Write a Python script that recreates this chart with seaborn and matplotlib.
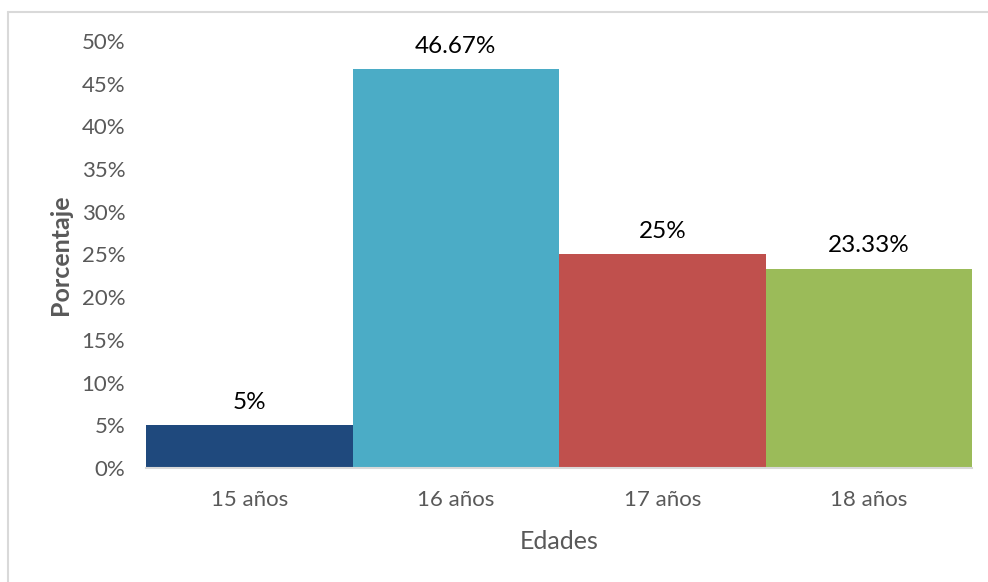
import matplotlib
matplotlib.use("Agg")
import matplotlib.pyplot as plt
from matplotlib.lines import Line2D
from matplotlib.ticker import FuncFormatter
import seaborn as sns
import pandas as pd

# Distribución por edades (porcentaje)
edades = ["15 años", "16 años", "17 años", "18 años"]
porcentajes = [5.0, 46.67, 25.0, 23.33]
etiquetas = ["5%", "46.67%", "25%", "23.33%"]
colores = ["#1F497D", "#4BACC6", "#C0504D", "#9BBB59"]

sns.set_theme(style="white")
plt.rcParams["font.family"] = ["Lato", "DejaVu Sans"]

df = pd.DataFrame({"Edades": edades, "Porcentaje": porcentajes})

fig = plt.figure(figsize=(9.88, 5.82), dpi=100)
ax = fig.add_axes([0.1478, 0.1959, 0.836, 0.7337])

sns.barplot(data=df, x="Edades", y="Porcentaje", hue="Edades",
            palette=colores, width=1.0, saturation=1, legend=False,
            linewidth=0, ax=ax)

ax.set_xlim(-0.5, 3.5)
ax.set_ylim(0, 50)
ax.set_yticks(range(0, 51, 5))
ax.yaxis.set_major_formatter(FuncFormatter(lambda v, _: f"{int(v)}%"))

gris = "#595959"
ax.tick_params(axis="y", length=0, pad=15, labelsize=16, labelcolor=gris)
ax.tick_params(axis="x", length=0, pad=16, labelsize=16, labelcolor=gris)

for s in ["top", "right", "left"]:
    ax.spines[s].set_visible(False)
ax.spines["bottom"].set_color("#D9D9D9")
ax.spines["bottom"].set_linewidth(1.5)

ax.set_xlabel("Edades", fontsize=18, color=gris, labelpad=14)
ax.set_ylabel("Porcentaje", fontsize=18, color=gris, fontweight="bold", labelpad=7)

for bar, txt in zip(ax.patches, etiquetas):
    ax.annotate(txt, (bar.get_x() + bar.get_width() / 2, bar.get_height()),
                xytext=(0, 9), textcoords="offset points",
                ha="center", va="bottom", fontsize=17.5, color="black")

# Marco exterior del gráfico
fig.add_artist(Line2D([8 / 988, 8 / 988], [0, 1 - 12 / 582],
                      transform=fig.transFigure, color="#D9D9D9", lw=1.5))
fig.add_artist(Line2D([8 / 988, 1], [1 - 12 / 582, 1 - 12 / 582],
                      transform=fig.transFigure, color="#D9D9D9", lw=1.5))

fig.savefig("out.png", dpi=100)
